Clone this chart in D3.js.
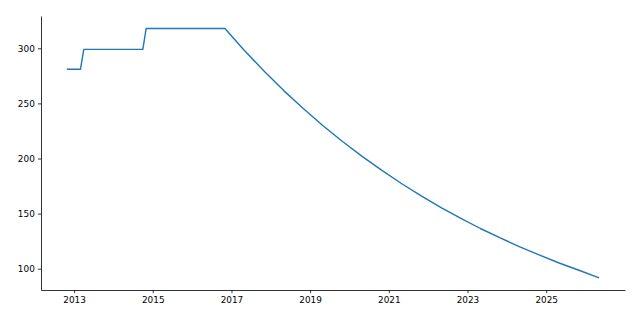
<!DOCTYPE html>
<html>
<head>
<meta charset="utf-8">
<script src="https://cdn.jsdelivr.net/npm/d3@7"></script>
<style>
  html, body { margin: 0; padding: 0; background: #fff; }
  svg { display: block; }
  text { font-family: "DejaVu Sans", sans-serif; }
</style>
</head>
<body>
<svg id="chart" width="640" height="320"></svg>
<script>
// Data (monthly dates)
const dates = [
  "2012-11-01", "2013-03-01", "2013-04-01", "2014-10-01", "2014-11-01", "2016-11-01",
  "2017-05-01", "2017-11-01", "2018-05-01", "2018-11-01", "2019-05-01", "2019-11-01",
  "2020-05-01", "2020-11-01", "2021-05-01", "2021-11-01", "2022-05-01", "2022-11-01",
  "2023-05-01", "2023-11-01", "2024-05-01", "2024-11-01", "2025-05-01", "2025-11-01",
  "2026-05-01"
];
const values = [
  281, 281, 299, 299, 318, 318,
  298, 279.2, 261.6, 245.1, 229.7, 215.2,
  201.7, 189.0, 177.1, 165.9, 155.5, 145.7,
  136.5, 127.9, 119.9, 112.3, 105.2, 98.6,
  92
];
const yTicks = [100, 150, 200, 250, 300];
const xTickYears = [2013, 2015, 2017, 2019, 2021, 2023, 2025];

const parse = d3.timeParse("%Y-%m-%d");
const data = dates.map((d, i) => ({ date: parse(d), value: values[i] }));

const margin = { left: 41, right: 15, top: 16, bottom: 30 };
const W = 640, H = 320;
const iw = W - margin.left - margin.right;
const ih = H - margin.top - margin.bottom;

const svg = d3.select("#chart");
const g = svg.append("g").attr("transform", `translate(${margin.left},${margin.top})`);

// matplotlib-style 5% margins
const xExt = d3.extent(data, d => +d.date);
const xPad = (xExt[1] - xExt[0]) * 0.05;
const x = d3.scaleTime()
  .domain([new Date(xExt[0] - xPad), new Date(xExt[1] + xPad)])
  .range([0, iw]);
const yExt = d3.extent(values);
const yPad = (yExt[1] - yExt[0]) * 0.05;
const y = d3.scaleLinear()
  .domain([yExt[0] - yPad, yExt[1] + yPad])
  .range([ih, 0]);

const fontSize = 8.9;
const tickLen = 3.1;

const xAxis = d3.axisBottom(x)
  .tickValues(xTickYears.map(yr => new Date(yr, 0, 1)))
  .tickFormat(d3.timeFormat("%Y"))
  .tickSizeOuter(0).tickSizeInner(tickLen).tickPadding(3.1);
const yAxis = d3.axisLeft(y)
  .tickValues(yTicks)
  .tickFormat(d3.format("d"))
  .tickSizeOuter(0).tickSizeInner(tickLen).tickPadding(3.1);

const gx = g.append("g").attr("transform", `translate(0,${ih})`).call(xAxis);
const gy = g.append("g").call(yAxis);

[gx, gy].forEach(ax => {
  ax.selectAll("path.domain").attr("stroke", "#000").attr("stroke-width", 0.8);
  ax.selectAll(".tick line").attr("stroke", "#000").attr("stroke-width", 0.8);
  ax.selectAll(".tick text").attr("fill", "#000")
    .style("font-size", fontSize + "px")
    .style("font-family", "DejaVu Sans, sans-serif");
});

const line = d3.line().x(d => x(d.date)).y(d => y(d.value));
g.append("path")
  .datum(data)
  .attr("fill", "none")
  .attr("stroke", "#1f77b4")
  .attr("stroke-width", 1.4)
  .attr("stroke-linejoin", "round")
  .attr("stroke-linecap", "square")
  .attr("d", line);
</script>
</body>
</html>
